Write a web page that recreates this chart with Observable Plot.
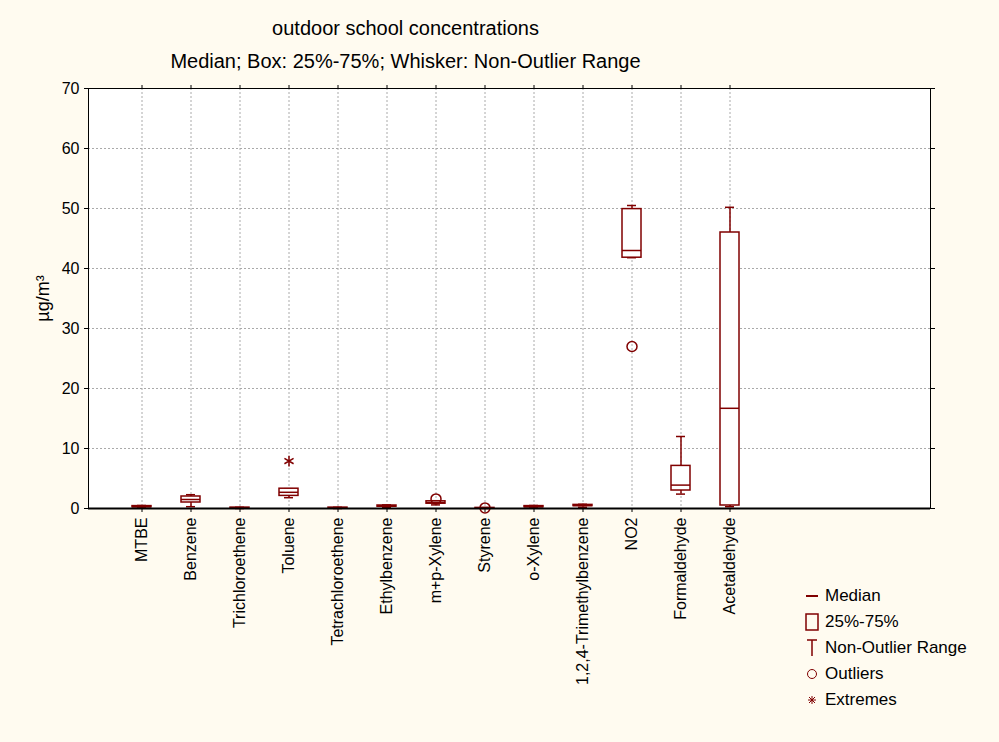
<!DOCTYPE html>
<html><head><meta charset="utf-8">
<script src="https://cdn.jsdelivr.net/npm/d3@7"></script>
<script src="https://cdn.jsdelivr.net/npm/@observablehq/plot@0.6"></script>
<style>
body{margin:0;background:#fffbf0;font-family:Arial,"Liberation Sans",sans-serif;}
#wrap{position:relative;width:999px;height:742px;}
.t{position:absolute;width:100%;left:0;text-align:center;font-size:20px;color:#000;}
#legend{position:absolute;left:805px;top:583px;font-size:17px;line-height:26px;}
#legend div{display:flex;align-items:center;}
#legend svg{margin-right:6px;}
</style></head><body>
<div id="wrap">
<div class="t" style="top:17px;left:-94px">outdoor school concentrations</div>
<div class="t" style="top:50px;left:-94px">Median; Box: 25%-75%; Whisker: Non-Outlier Range</div>
<div id="chart" style="position:absolute;top:80px;left:0"></div>
<div id="legend">
<div><svg width="14" height="14"><line x1="1" x2="13" y1="7" y2="7" stroke="#800000" stroke-width="2"/></svg>Median</div>
<div><svg width="14" height="18"><rect x="1" y="1" width="12" height="16" fill="none" stroke="#800000" stroke-width="1.5"/></svg>25%-75%</div>
<div><svg width="14" height="18"><path d="M2 1H12M7 1V17" stroke="#800000" stroke-width="1.5"/></svg>Non-Outlier Range</div>
<div><svg width="14" height="14"><circle cx="7" cy="7" r="4.5" fill="none" stroke="#800000"/></svg>Outliers</div>
<div><svg width="14" height="14"><path d="M3 7H11M7 3V11M4 4L10 10M10 4L4 10" stroke="#800000"/></svg>Extremes</div>
</div>
</div>
<script>
const categories=["MTBE","Benzene","Trichloroethene","Toluene","Tetrachloroethene","Ethylbenzene","m+p-Xylene","Styrene","o-Xylene","1,2,4-Trimethylbenzene","NO2","Formaldehyde","Acetaldehyde"];
const mins=[0.1,0.3,0.0,1.8,0.0,0.2,0.6,0.0,0.1,0.2,41.8,2.4,0.3];
const q1s=[0.2,1.0,0.05,2.1,0.05,0.3,0.8,0.0,0.2,0.4,41.8,3.0,0.5];
const medians=[0.3,1.5,0.1,2.7,0.1,0.4,1.0,0.05,0.3,0.5,43.0,3.9,16.7];
const q3s=[0.4,2.0,0.15,3.3,0.15,0.5,1.2,0.1,0.4,0.6,49.9,7.1,46.0];
const maxs=[0.5,2.3,0.2,3.3,0.2,0.6,1.3,0.15,0.5,0.7,50.5,12.0,50.2];
const outlierCats=["m+p-Xylene","Styrene","NO2"];
const outlierVals=[1.6,0.1,27.0];
const extremeCats=["Toluene"];
const extremeVals=[7.9];
const yTicks=[0,10,20,30,40,50,60,70];

const boxes=categories.map((c,i)=>({c,min:mins[i],q1:q1s[i],med:medians[i],q3:q3s[i],max:maxs[i]}));
const outliers=outlierCats.map((c,i)=>({c,v:outlierVals[i]}));
const extremes=extremeCats.map((c,i)=>({c,v:extremeVals[i]}));
const col="#800000";
const chart=Plot.plot({
  width:999,height:662,
  marginLeft:88,marginRight:69,marginTop:8,marginBottom:234,
  style:{background:"transparent",fontSize:"16px",fontFamily:"Arial, 'Liberation Sans', sans-serif",color:"#000"},
  x:{type:"band",domain:categories,range:[112,758],padding:0,label:null},
  y:{domain:[0,70]},
  marks:[
    Plot.frame({fill:"white"}),
    Plot.gridY(yTicks,{stroke:"#aaa",strokeDasharray:"2,2",strokeOpacity:1}),
    Plot.gridX(categories,{stroke:"#aaa",strokeDasharray:"2,2",strokeOpacity:1}),
    Plot.axisX(categories,{tickRotate:-90,tickSize:4,fontSize:16}),
    Plot.axisX(categories,{anchor:"top",tickSize:4,tickFormat:()=>""}),
    Plot.axisY(yTicks,{tickSize:4,fontSize:16,label:"µg/m³",labelAnchor:"center",labelOffset:52,labelArrow:"none"}),
    Plot.axisY(yTicks,{anchor:"right",tickSize:4,tickFormat:()=>"",label:null}),
    Plot.ruleX(boxes,{x:"c",y1:"q3",y2:"max",stroke:col,strokeWidth:1.5}),
    Plot.ruleX(boxes,{x:"c",y1:"min",y2:"q1",stroke:col,strokeWidth:1.5}),
    Plot.tickY(boxes,{x:"c",y:"max",stroke:col,strokeWidth:1.5,inset:20}),
    Plot.tickY(boxes,{x:"c",y:"min",stroke:col,strokeWidth:1.5,inset:20}),
    Plot.barY(boxes,{x:"c",y1:"q1",y2:"q3",fill:"white",stroke:col,strokeWidth:1.5,insetLeft:15,insetRight:15}),
    Plot.tickY(boxes,{x:"c",y:"med",stroke:col,strokeWidth:1.5,inset:15}),
    Plot.dot(outliers,{x:"c",y:"v",r:5,stroke:col,fill:"none"}),
    Plot.dot(extremes,{x:"c",y:"v",r:5,stroke:col,symbol:"asterisk"}),
    Plot.frame({stroke:"#000"}),
    Plot.ruleY([0],{stroke:"#000",strokeWidth:2})
  ]
});
chart.querySelectorAll("[aria-label='y-axis label'] text").forEach(t=>t.style.fontSize="18px");
document.getElementById("chart").appendChild(chart);
</script></body></html>
